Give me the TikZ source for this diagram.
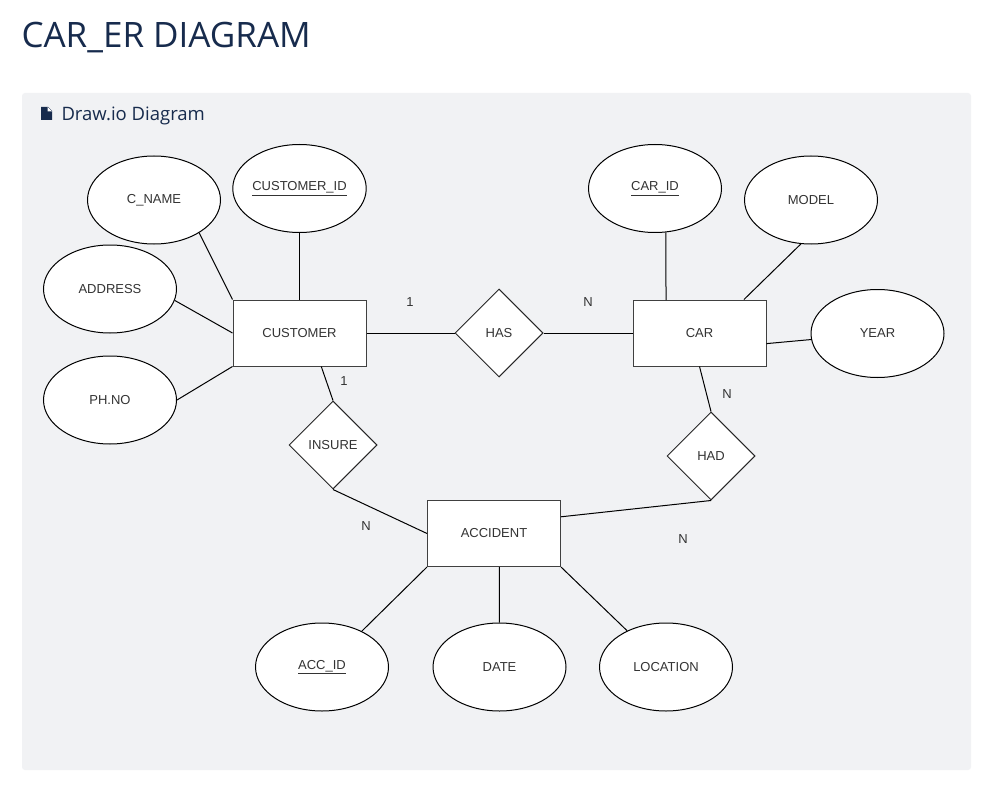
\documentclass[tikz,border=0pt]{standalone}
\usepackage{fontspec}
\setmainfont{Liberation Sans}
\newfontfamily\titlefont{Open Sans}
\usetikzlibrary{shapes.geometric}
\definecolor{navy}{HTML}{172B4D}
\definecolor{panel}{HTML}{F1F2F4}
\definecolor{ink}{HTML}{333333}
\tikzset{every node/.style={text=ink,font=\fontsize{13}{15}\selectfont}}
\tikzset{ent/.style={rectangle,draw=black!75,fill=white,line width=1pt,minimum width=133pt,minimum height=66pt}}
\tikzset{attr/.style={ellipse,draw=black,fill=white,line width=1pt,minimum width=133pt,minimum height=88pt,inner sep=0pt}}
\tikzset{rel/.style={diamond,draw=black!85,fill=white,line width=1pt,minimum width=88pt,minimum height=88pt,inner sep=0pt}}
\tikzset{card/.style={inner sep=0pt}}
\begin{document}
\begin{tikzpicture}[x=1pt,y=-1pt,line width=1pt]
      \fill[white] (0,0) rectangle (992,802);
      \useasboundingbox (0,0) rectangle (992,802);
      \fill[panel,rounded corners=3pt] (22,93) rectangle (971,770);
      \node[anchor=base west,inner sep=0pt,text=navy,font=\titlefont\fontsize{35}{40}\selectfont] (T) at (21,48) {CAR\_ER DIAGRAM};
      \fill[navy] (41,107) -- (48,107) -- (52,111) -- (52,120) -- (41,120) -- cycle;
      \fill[white] (47.5,107) -- (47.5,111.5) -- (52,111.5) -- cycle;
      \node[anchor=base west,inner sep=0pt,text=navy,font=\titlefont\fontsize{18.5}{22}\selectfont] (D) at (61,121) {Draw.io Diagram};
      % entities and relations
      \node[ent] (CUST) at (299.5,333) {CUSTOMER};
      \node[ent] (CAR) at (699.5,333) {CAR};
      \node[ent] (ACC) at (494,533.5) {ACCIDENT};
      \node[rel] (HAS) at (499,333) {HAS};
      \node[rel] (INS) at (333,445) {INSURE};
      \node[rel] (HAD) at (711,456) {HAD};
      % attributes
      \node[attr] (CN) at (154,200) {C\_NAME};
      \node[attr] (CID) at (299.5,188.5) {\underline{CUSTOMER\_ID}};
      \node[attr] (ADR) at (110,289) {ADDRESS};
      \node[attr] (PH) at (110,400) {PH.NO};
      \node[attr] (CARID) at (655,188.5) {\underline{CAR\_ID}};
      \node[attr] (MOD) at (811,200) {MODEL};
      \node[attr] (YR) at (877.5,333.5) {YEAR};
      \node[attr] (AID) at (322,667) {\underline{ACC\_ID}};
      \node[attr] (DT) at (499.5,667) {DATE};
      \node[attr] (LOC) at (666,667) {LOCATION};
      % connectors
      \coordinate (CTOP) at (666,300);
      \draw (CN.-36) -- (CUST.north west);
      \draw (CID) -- (CUST);
      \draw (ADR.-10) -- (CUST.west);
      \draw (PH.east) -- (CUST.south west);
      \draw (CUST) -- (HAS);
      \draw (HAS) -- (CAR);
      \draw (CUST.-57) -- (INS.north);
      \draw (INS.south) -- (ACC.west);
      \draw (CARID.-76) -- (CTOP);
      \draw (MOD.-103) -- (CAR.37);
      \draw (YR) -- (CAR.-9);
      \draw (CAR.south) -- (HAD.north);
      \draw (HAD.south) -- (ACC.14);
      \draw (ACC.south west) -- (AID.42);
      \draw (ACC.-81) -- (DT);
      \draw (ACC.south east) -- (LOC.137);
      % cardinalities
      \node[card] (C1) at (410,302) {1};
      \node[card] (C2) at (588,302) {N};
      \node[card] (C3) at (344,381) {1};
      \node[card] (C4) at (366,526) {N};
      \node[card] (C5) at (727,394) {N};
      \node[card] (C6) at (683,539) {N};
    \end{tikzpicture}
\end{document}
